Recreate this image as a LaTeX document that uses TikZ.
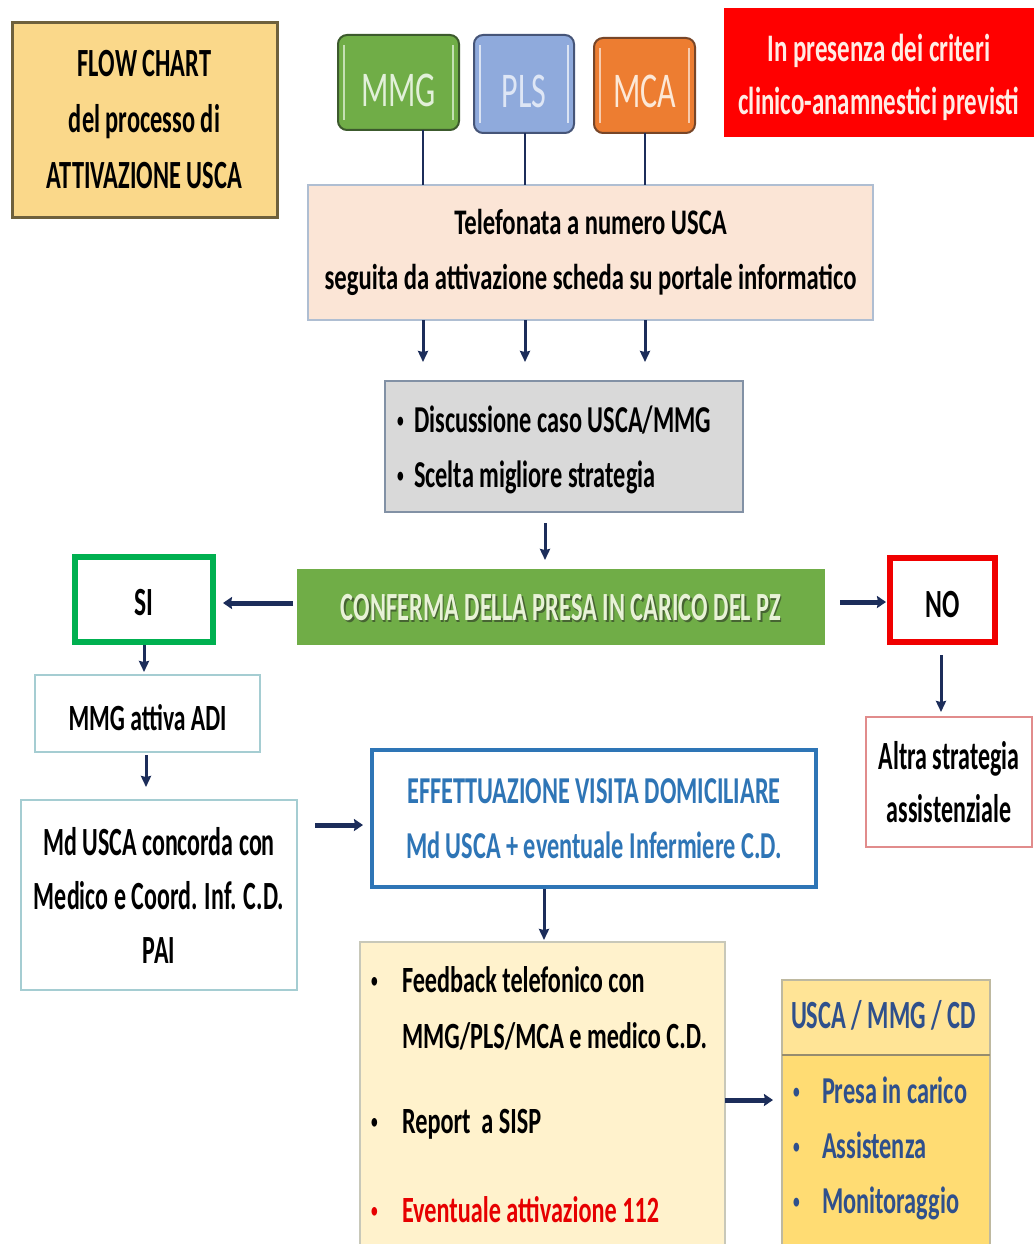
\documentclass[tikz,border=0pt]{standalone}
\usepackage{fontspec}
\usepackage{graphicx}
\setmainfont{Carlito}[FakeStretch=0.64]
\usetikzlibrary{arrows.meta,calc}
\definecolor{navy}{RGB}{28,45,90}
\definecolor{titlefill}{RGB}{250,216,138}
\definecolor{titledraw}{RGB}{110,96,60}
\definecolor{mmgfill}{RGB}{112,173,71}
\definecolor{mmgdraw}{RGB}{60,90,45}
\definecolor{mmgtext}{RGB}{226,240,217}
\definecolor{mmgline}{RGB}{197,224,180}
\definecolor{plsfill}{RGB}{143,170,220}
\definecolor{plsdraw}{RGB}{70,85,120}
\definecolor{plstext}{RGB}{222,230,245}
\definecolor{plsline}{RGB}{218,227,243}
\definecolor{mcafill}{RGB}{237,125,49}
\definecolor{mcadraw}{RGB}{120,70,40}
\definecolor{mcatext}{RGB}{252,232,215}
\definecolor{mcaline}{RGB}{248,203,173}
\definecolor{critred}{RGB}{255,0,0}
\definecolor{crittext}{RGB}{255,236,228}
\definecolor{telfill}{RGB}{251,229,214}
\definecolor{teldraw}{RGB}{175,190,210}
\definecolor{discfill}{RGB}{217,217,217}
\definecolor{discdraw}{RGB}{130,145,165}
\definecolor{confgreen}{RGB}{112,173,71}
\definecolor{conftext}{RGB}{232,242,215}
\definecolor{confshadow}{RGB}{70,100,50}
\definecolor{sigreen}{RGB}{0,176,80}
\definecolor{nored}{RGB}{240,0,0}
\definecolor{tealline}{RGB}{165,205,210}
\definecolor{effblue}{RGB}{46,117,182}
\definecolor{altline}{RGB}{225,140,140}
\definecolor{feedfill}{RGB}{255,242,204}
\definecolor{feeddraw}{RGB}{200,200,185}
\definecolor{uscahead}{RGB}{255,228,150}
\definecolor{uscabody}{RGB}{255,220,115}
\definecolor{uscadraw}{RGB}{190,185,160}
\definecolor{uscadiv}{RGB}{150,140,110}
\definecolor{uscatext}{RGB}{47,80,140}
\definecolor{eventred}{RGB}{230,0,0}
\newcommand\mybul[1]{\makebox[#1][l]{\raisebox{0.13em}{\scalebox{0.55}{•}}}}
\newcommand\shadowtext[1]{\makebox[0pt][l]{\hspace{1.5pt}\raisebox{-1.5pt}{\textcolor{confshadow}{#1}}}#1}
\begin{document}
\begin{tikzpicture}[x=1pt,y=-1pt,
  base/.style={rectangle, anchor=north west, inner sep=0pt, outer sep=0pt, align=center},
  conn/.style={draw=navy, line width=2.5pt},
  arr/.style={draw=navy, line width=3pt, -{Stealth[length=11pt,width=10pt,inset=1pt]}},
  harr/.style={draw=navy, line width=5pt, -{Stealth[length=9pt,width=12pt,inset=1pt]}},
  txt/.style={inner sep=0pt, outer sep=0pt, anchor=base west},
  fb/.style={font=\fontsize{#1}{55}\selectfont\bfseries},
  fr/.style={font=\fontsize{#1}{55}\selectfont},
]
\useasboundingbox (0,0) rectangle (1034,1244);
\fill[white] (0,0) rectangle (1034,1244);

% title
\node[base, minimum width=265pt, minimum height=194pt, fill=titlefill, draw=titledraw, line width=3pt,
  font=\fontsize{40}{56}\selectfont\bfseries\addfontfeatures{FakeStretch=0.61}] (title) at (12,23) {FLOW CHART\\del processo di\\ATTIVAZIONE USCA};

% sources
\node[base, minimum width=121pt, minimum height=95pt, fill=mmgfill, draw=mmgdraw, line width=2pt, rounded corners=9pt,
  text=mmgtext, fr=50, text height=49pt, text depth=0pt] (mmg) at (338,35) {MMG};
\node[base, minimum width=100pt, minimum height=98pt, fill=plsfill, draw=plsdraw, line width=2pt, rounded corners=9pt,
  text=plstext, fr=50, text height=48pt, text depth=0pt] (pls) at (474,35) {PLS};
\node[base, minimum width=101pt, minimum height=95pt, fill=mcafill, draw=mcadraw, line width=2pt, rounded corners=9pt,
  text=mcatext, fr=50, text height=45pt, text depth=0pt] (mca) at (594,38) {MCA};
\draw[mmgline, line width=2pt] ([xshift=6pt,yshift=-10pt]mmg.north west) -- ([xshift=6pt,yshift=10pt]mmg.south west);
\draw[mmgline, line width=2pt] ([xshift=-6pt,yshift=-10pt]mmg.north east) -- ([xshift=-6pt,yshift=10pt]mmg.south east);
\draw[plsline, line width=2pt] ([xshift=6pt,yshift=-10pt]pls.north west) -- ([xshift=6pt,yshift=10pt]pls.south west);
\draw[plsline, line width=2pt] ([xshift=-6pt,yshift=-10pt]pls.north east) -- ([xshift=-6pt,yshift=10pt]pls.south east);
\draw[mcaline, line width=2pt] ([xshift=6pt,yshift=-10pt]mca.north west) -- ([xshift=6pt,yshift=10pt]mca.south west);
\draw[mcaline, line width=2pt] ([xshift=-6pt,yshift=-10pt]mca.north east) -- ([xshift=-6pt,yshift=10pt]mca.south east);

% criteria
\node[base, minimum width=310pt, minimum height=129pt, fill=critred, text=crittext,
  font=\fontsize{39}{53}\selectfont\bfseries] (crit) at (724,8) {\rule{0pt}{38pt}In presenza dei criteri\\clinico-anamnestici previsti};

% telefonata
\node[base, minimum width=565pt, minimum height=135pt, fill=telfill, draw=teldraw, line width=1.2pt,
  font=\fontsize{36}{55}\selectfont\bfseries\addfontfeatures{FakeStretch=0.685}] (tel) at (308,185) {Telefonata a numero USCA\\seguita da attivazione scheda su portale informatico};

% discussione
\node[base, minimum width=358pt, minimum height=131pt, fill=discfill, draw=discdraw, line width=1.5pt] (disc) at (385,381) {};
\node[txt, fb=38] (disct) at (397,432) {\begin{tabular}[t]{@{}l@{}}\mybul{17pt}Discussione caso USCA/MMG\\\mybul{17pt}Scelta migliore strategia\end{tabular}};

% conferma
\node[base, minimum width=528pt, minimum height=76pt, fill=confgreen, text=conftext,
  font=\fontsize{40}{55}\selectfont\bfseries\addfontfeatures{FakeStretch=0.61}, text height=27pt, text depth=0pt] (conf) at (297,569) {\shadowtext{CONFERMA DELLA PRESA IN CARICO DEL PZ}};

% SI / NO
\node[base, minimum width=138pt, minimum height=85pt, fill=white, draw=sigreen, line width=6pt,
  fb=40, text height=31pt, text depth=0pt] (si) at (75,557) {SI};
\node[base, minimum width=105pt, minimum height=84pt, fill=white, draw=nored, line width=6pt,
  fb=40, text height=34pt, text depth=0pt] (no) at (890,558) {NO};

% left branch
\node[base, minimum width=225pt, minimum height=77pt, fill=white, draw=tealline, line width=1.2pt,
  fb=37, text height=33pt, text depth=0pt] (adi) at (35,675) {MMG attiva ADI};
\node[base, minimum width=276pt, minimum height=190pt, fill=white, draw=tealline, line width=1.2pt,
  font=\fontsize{40}{54}\selectfont\bfseries\addfontfeatures{FakeStretch=0.6}] (md) at (21,800) {Md USCA concorda con\\Medico e Coord. Inf. C.D.\\PAI};

% visita
\node[base, minimum width=444pt, minimum height=137pt, fill=white, draw=effblue, line width=4.5pt, text=effblue,
  font=\fontsize{38}{55}\selectfont\bfseries] (eff) at (372,750) {EFFETTUAZIONE VISITA DOMICILIARE\\Md USCA + eventuale Infermiere C.D.};

% altra strategia
\node[base, minimum width=166pt, minimum height=130pt, fill=white, draw=altline, line width=1.2pt,
  font=\fontsize{40}{53}\selectfont\bfseries\addfontfeatures{FakeStretch=0.6}] (alt) at (866,717) {Altra strategia\\assistenziale};

% feedback
\node[base, minimum width=365pt, minimum height=310pt, fill=feedfill, draw=feeddraw, line width=1.2pt] (feed) at (360,942) {};
\node[txt, font=\fontsize{37}{56}\selectfont\bfseries\addfontfeatures{FakeStretch=0.655}] (feedt) at (371,992) {\begin{tabular}[t]{@{}l@{}}\mybul{31pt}Feedback telefonico con\\\hspace{31pt}MMG/PLS/MCA e medico C.D.\\[29pt]\mybul{31pt}Report\ \ a SISP\\[33pt]\color{eventred}\mybul{31pt}Eventuale attivazione 112\end{tabular}};

% USCA / MMG / CD
\node[base, minimum width=208pt, minimum height=270pt, fill=uscabody, draw=uscadraw, line width=1.2pt] (usca) at (782,980) {};
\node[base, minimum width=208pt, minimum height=75pt, fill=uscahead, draw=uscadraw, line width=1.2pt] (uscah) at (782,980) {};
\draw[uscadiv, line width=2pt] (uscah.south west) -- (uscah.south east);
\node[txt, text=uscatext, font=\fontsize{40}{55}\selectfont\bfseries\addfontfeatures{FakeStretch=0.61}] (uscaht) at (791,1028) {USCA / MMG / CD};
\node[txt, text=uscatext, font=\fontsize{38}{55}\selectfont\bfseries] (uscat) at (793,1103) {\begin{tabular}[t]{@{}l@{}}\mybul{29pt}Presa in carico\\\mybul{29pt}Assistenza\\\mybul{29pt}Monitoraggio\end{tabular}};

% connectors
\coordinate (xm) at (423,0);
\coordinate (xp) at (525,0);
\coordinate (xc) at (645,0);
\draw[conn] (xm |- mmg.south) -- (xm |- tel.north);
\draw[conn] (xp |- pls.south) -- (xp |- tel.north);
\draw[conn] (xc |- mca.south) -- (xc |- tel.north);
\draw[arr, shorten >=19pt] (xm |- tel.south) -- (xm |- disc.north);
\draw[arr, shorten >=19pt] (xp |- tel.south) -- (xp |- disc.north);
\draw[arr, shorten >=19pt] (xc |- tel.south) -- (xc |- disc.north);

\coordinate (xd) at (545,0);
\draw[arr, shorten <=11pt, shorten >=9pt] (xd |- disc.south) -- (xd |- conf.north);

\coordinate (ys) at (0,603);
\draw[harr, shorten <=4pt, shorten >=10pt] (ys -| conf.west) -- (ys -| si.east);
\coordinate (yn) at (0,602);
\draw[harr, shorten <=15pt, shorten >=4pt] (yn -| conf.east) -- (yn -| no.west);

\coordinate (xs) at (144,0);
\draw[arr, shorten <=3pt, shorten >=3pt] (xs |- si.south) -- (xs |- adi.north);
\coordinate (xa) at (146,0);
\draw[arr, shorten <=3pt, shorten >=13pt] (xa |- adi.south) -- (xa |- md.north);
\coordinate (ym) at (0,825);
\draw[harr, shorten <=18pt, shorten >=9pt] (ym -| md.east) -- (ym -| eff.west);
\coordinate (xe) at (544,0);
\draw[arr, shorten <=2pt, shorten >=2pt] (xe |- eff.south) -- (xe |- feed.north);
\coordinate (xn) at (941,0);
\draw[arr, shorten <=13pt, shorten >=5pt] (xn |- no.south) -- (xn |- alt.north);
\coordinate (yf) at (0,1100);
\draw[harr, shorten >=9pt] (yf -| feed.east) -- (yf -| usca.west);
\end{tikzpicture}
\end{document}
